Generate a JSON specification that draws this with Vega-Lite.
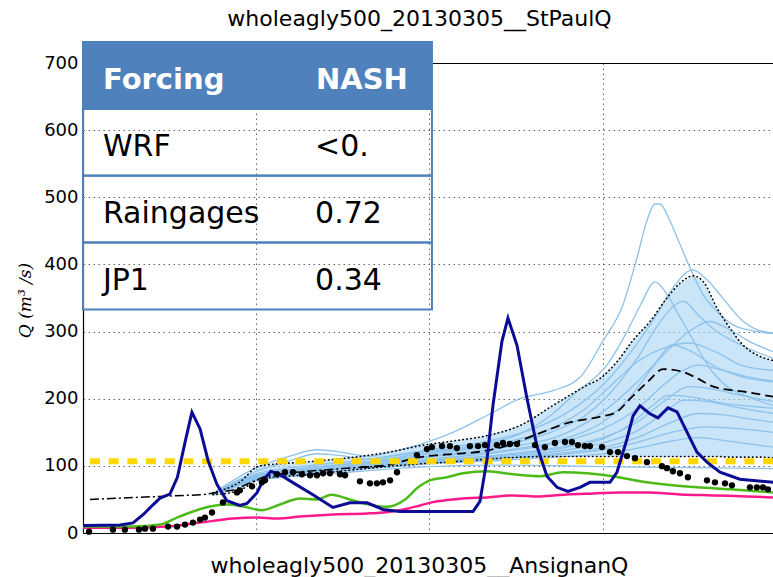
{
"$schema": "https://vega.github.io/schema/vega-lite/v6.json",
"width": 691, "height": 470,
"autosize": "none",
"padding": {"left": 83, "top": 63, "right": 0, "bottom": 44},
"background": "white",
"config": {"view": {"stroke": null}, "font": "DejaVu Sans"},
"title": {"text": "wholeagly500_20130305__StPaulQ", "frame": "group", "anchor": "middle", "dx": -9, "offset": -7, "fontSize": 22, "fontWeight": "normal", "font": "DejaVu Sans", "color": "black", "baseline": "alphabetic"},
"datasets": {
"band": [
{"t":0.75,"hi":60,"lo":57},{"t":0.9,"hi":75,"lo":63},{"t":1.02,"hi":100,"lo":80},{"t":1.3,"hi":106,"lo":87},{"t":1.6,"hi":114,"lo":95},{"t":1.8,"hi":122,"lo":100},{"t":1.946,"hi":130,"lo":103},{"t":2.136,"hi":137,"lo":106},{"t":2.333,"hi":145,"lo":110},{"t":2.523,"hi":160,"lo":113},{"t":2.714,"hi":190,"lo":114},{"t":2.91,"hi":220,"lo":114},{"t":2.985,"hi":230,"lo":114},{"t":3.083,"hi":255,"lo":114},{"t":3.176,"hi":287,"lo":114},{"t":3.274,"hi":315,"lo":114},{"t":3.372,"hi":350,"lo":114},{"t":3.447,"hi":372,"lo":114},{"t":3.522,"hi":383,"lo":114},{"t":3.58,"hi":375,"lo":114},{"t":3.661,"hi":335,"lo":114},{"t":3.736,"hi":305,"lo":113},{"t":3.811,"hi":280,"lo":113},{"t":3.909,"hi":263,"lo":113},{"t":3.984,"hi":257,"lo":112}
],
"ens": [
{"m":"e1","t":0.75,"q":59},{"m":"e1","t":1.0,"q":97},{"m":"e1","t":1.2,"q":115},{"m":"e1","t":1.35,"q":124},{"m":"e1","t":1.5,"q":120},{"m":"e1","t":1.65,"q":114},{"m":"e1","t":1.8,"q":122},{"m":"e1","t":1.946,"q":132},{"m":"e1","t":2.136,"q":150},{"m":"e1","t":2.333,"q":175},{"m":"e1","t":2.523,"q":200},{"m":"e1","t":2.714,"q":212},{"m":"e1","t":2.87,"q":232},{"m":"e1","t":3.0,"q":285},{"m":"e1","t":3.118,"q":340},{"m":"e1","t":3.199,"q":410},{"m":"e1","t":3.256,"q":465},{"m":"e1","t":3.303,"q":490},{"m":"e1","t":3.331,"q":490},{"m":"e1","t":3.389,"q":465},{"m":"e1","t":3.447,"q":430},{"m":"e1","t":3.505,"q":395},{"m":"e1","t":3.58,"q":355},{"m":"e1","t":3.661,"q":330},{"m":"e1","t":3.753,"q":310},{"m":"e1","t":3.851,"q":302},{"m":"e1","t":3.984,"q":297},
{"m":"e2","t":0.75,"q":58},{"m":"e2","t":1.0,"q":92},{"m":"e2","t":1.2,"q":108},{"m":"e2","t":1.35,"q":118},{"m":"e2","t":1.5,"q":115},{"m":"e2","t":1.65,"q":110},{"m":"e2","t":1.8,"q":116},{"m":"e2","t":2.0,"q":124},{"m":"e2","t":2.3,"q":135},{"m":"e2","t":2.6,"q":155},{"m":"e2","t":2.8,"q":180},{"m":"e2","t":3.0,"q":220},{"m":"e2","t":3.15,"q":265},{"m":"e2","t":3.3,"q":320},{"m":"e2","t":3.42,"q":370},{"m":"e2","t":3.52,"q":392},{"m":"e2","t":3.6,"q":378},{"m":"e2","t":3.7,"q":348},{"m":"e2","t":3.8,"q":318},{"m":"e2","t":3.9,"q":302},{"m":"e2","t":3.984,"q":298},
{"m":"e3","t":0.75,"q":58},{"m":"e3","t":1.0,"q":88},{"m":"e3","t":1.3,"q":100},{"m":"e3","t":1.6,"q":108},{"m":"e3","t":1.8,"q":115},{"m":"e3","t":2.0,"q":122},{"m":"e3","t":2.3,"q":132},{"m":"e3","t":2.5,"q":145},{"m":"e3","t":2.7,"q":175},{"m":"e3","t":2.85,"q":210},{"m":"e3","t":3.025,"q":250},{"m":"e3","t":3.141,"q":300},{"m":"e3","t":3.22,"q":340},{"m":"e3","t":3.303,"q":374},{"m":"e3","t":3.36,"q":360},{"m":"e3","t":3.45,"q":320},{"m":"e3","t":3.55,"q":275},{"m":"e3","t":3.62,"q":245},{"m":"e3","t":3.72,"q":218},{"m":"e3","t":3.85,"q":202},{"m":"e3","t":3.984,"q":190},
{"m":"e4","t":0.75,"q":57},{"m":"e4","t":1.0,"q":85},{"m":"e4","t":1.3,"q":96},{"m":"e4","t":1.6,"q":104},{"m":"e4","t":1.8,"q":110},{"m":"e4","t":2.0,"q":118},{"m":"e4","t":2.4,"q":130},{"m":"e4","t":2.7,"q":150},{"m":"e4","t":2.9,"q":175},{"m":"e4","t":3.05,"q":210},{"m":"e4","t":3.2,"q":260},{"m":"e4","t":3.32,"q":310},{"m":"e4","t":3.42,"q":340},{"m":"e4","t":3.47,"q":345},{"m":"e4","t":3.55,"q":325},{"m":"e4","t":3.65,"q":302},{"m":"e4","t":3.8,"q":280},{"m":"e4","t":3.984,"q":260},
{"m":"e5","t":0.75,"q":57},{"m":"e5","t":1.0,"q":84},{"m":"e5","t":1.3,"q":94},{"m":"e5","t":1.6,"q":102},{"m":"e5","t":1.8,"q":108},{"m":"e5","t":2.0,"q":115},{"m":"e5","t":2.4,"q":126},{"m":"e5","t":2.8,"q":150},{"m":"e5","t":3.0,"q":180},{"m":"e5","t":3.2,"q":225},{"m":"e5","t":3.35,"q":265},{"m":"e5","t":3.5,"q":300},{"m":"e5","t":3.62,"q":315},{"m":"e5","t":3.72,"q":305},{"m":"e5","t":3.85,"q":285},{"m":"e5","t":3.984,"q":270},
{"m":"e6","t":0.75,"q":57},{"m":"e6","t":1.0,"q":83},{"m":"e6","t":1.3,"q":93},{"m":"e6","t":1.6,"q":100},{"m":"e6","t":1.8,"q":106},{"m":"e6","t":2.0,"q":113},{"m":"e6","t":2.4,"q":122},{"m":"e6","t":2.8,"q":142},{"m":"e6","t":3.0,"q":165},{"m":"e6","t":3.15,"q":200},{"m":"e6","t":3.3,"q":250},{"m":"e6","t":3.4,"q":280},{"m":"e6","t":3.5,"q":272},{"m":"e6","t":3.65,"q":248},{"m":"e6","t":3.8,"q":233},{"m":"e6","t":3.984,"q":225},
{"m":"e7","t":0.75,"q":57},{"m":"e7","t":1.0,"q":82},{"m":"e7","t":1.3,"q":92},{"m":"e7","t":1.6,"q":99},{"m":"e7","t":1.8,"q":104},{"m":"e7","t":2.0,"q":110},{"m":"e7","t":2.4,"q":120},{"m":"e7","t":2.8,"q":138},{"m":"e7","t":3.0,"q":155},{"m":"e7","t":3.2,"q":185},{"m":"e7","t":3.35,"q":220},{"m":"e7","t":3.45,"q":240},{"m":"e7","t":3.55,"q":250},{"m":"e7","t":3.7,"q":242},{"m":"e7","t":3.85,"q":232},{"m":"e7","t":3.984,"q":226},
{"m":"e8","t":0.75,"q":57},{"m":"e8","t":1.0,"q":81},{"m":"e8","t":1.3,"q":91},{"m":"e8","t":1.6,"q":98},{"m":"e8","t":1.8,"q":102},{"m":"e8","t":2.0,"q":108},{"m":"e8","t":2.4,"q":116},{"m":"e8","t":2.8,"q":130},{"m":"e8","t":3.0,"q":142},{"m":"e8","t":3.2,"q":165},{"m":"e8","t":3.35,"q":195},{"m":"e8","t":3.5,"q":218},{"m":"e8","t":3.62,"q":215},{"m":"e8","t":3.8,"q":205},{"m":"e8","t":3.984,"q":196},
{"m":"e9","t":0.75,"q":57},{"m":"e9","t":1.0,"q":80},{"m":"e9","t":1.3,"q":90},{"m":"e9","t":1.6,"q":97},{"m":"e9","t":1.8,"q":101},{"m":"e9","t":2.0,"q":106},{"m":"e9","t":2.4,"q":113},{"m":"e9","t":2.8,"q":124},{"m":"e9","t":3.0,"q":134},{"m":"e9","t":3.2,"q":152},{"m":"e9","t":3.35,"q":178},{"m":"e9","t":3.47,"q":198},{"m":"e9","t":3.6,"q":196},{"m":"e9","t":3.8,"q":186},{"m":"e9","t":3.984,"q":178},
{"m":"e10","t":0.75,"q":57},{"m":"e10","t":1.0,"q":80},{"m":"e10","t":1.3,"q":89},{"m":"e10","t":1.6,"q":96},{"m":"e10","t":1.8,"q":100},{"m":"e10","t":2.0,"q":105},{"m":"e10","t":2.4,"q":111},{"m":"e10","t":2.8,"q":120},{"m":"e10","t":3.0,"q":127},{"m":"e10","t":3.2,"q":142},{"m":"e10","t":3.4,"q":165},{"m":"e10","t":3.55,"q":178},{"m":"e10","t":3.7,"q":176},{"m":"e10","t":3.85,"q":170},{"m":"e10","t":3.984,"q":165},
{"m":"e11","t":0.75,"q":57},{"m":"e11","t":1.0,"q":81},{"m":"e11","t":1.3,"q":90},{"m":"e11","t":1.6,"q":97},{"m":"e11","t":1.8,"q":102},{"m":"e11","t":2.0,"q":107},{"m":"e11","t":2.4,"q":115},{"m":"e11","t":2.8,"q":128},{"m":"e11","t":3.0,"q":140},{"m":"e11","t":3.15,"q":160},{"m":"e11","t":3.28,"q":188},{"m":"e11","t":3.38,"q":205},{"m":"e11","t":3.5,"q":203},{"m":"e11","t":3.7,"q":193},{"m":"e11","t":3.984,"q":186},
{"m":"e12","t":0.75,"q":57},{"m":"e12","t":1.0,"q":80},{"m":"e12","t":1.3,"q":88},{"m":"e12","t":1.6,"q":95},{"m":"e12","t":1.8,"q":99},{"m":"e12","t":2.0,"q":103},{"m":"e12","t":2.4,"q":108},{"m":"e12","t":2.8,"q":114},{"m":"e12","t":3.0,"q":118},{"m":"e12","t":3.2,"q":126},{"m":"e12","t":3.4,"q":137},{"m":"e12","t":3.55,"q":142},{"m":"e12","t":3.75,"q":136},{"m":"e12","t":3.984,"q":128},
{"m":"e13","t":0.75,"q":56},{"m":"e13","t":1.0,"q":78},{"m":"e13","t":1.3,"q":86},{"m":"e13","t":1.6,"q":92},{"m":"e13","t":1.8,"q":96},{"m":"e13","t":2.0,"q":99},{"m":"e13","t":2.4,"q":101},{"m":"e13","t":2.8,"q":100},{"m":"e13","t":3.2,"q":98},{"m":"e13","t":3.6,"q":97},{"m":"e13","t":3.984,"q":96},
{"m":"e14","t":0.75,"q":58},{"m":"e14","t":1.0,"q":86},{"m":"e14","t":1.3,"q":97},{"m":"e14","t":1.6,"q":105},{"m":"e14","t":1.8,"q":112},{"m":"e14","t":2.0,"q":120},{"m":"e14","t":2.4,"q":133},{"m":"e14","t":2.7,"q":155},{"m":"e14","t":2.9,"q":185},{"m":"e14","t":3.05,"q":220},{"m":"e14","t":3.2,"q":255},{"m":"e14","t":3.35,"q":275},{"m":"e14","t":3.5,"q":283},{"m":"e14","t":3.65,"q":270},{"m":"e14","t":3.8,"q":250},{"m":"e14","t":3.984,"q":242},
{"m":"e15","t":0.75,"q":57},{"m":"e15","t":1.0,"q":80},{"m":"e15","t":1.3,"q":89},{"m":"e15","t":1.6,"q":96},{"m":"e15","t":1.8,"q":100},{"m":"e15","t":2.0,"q":104},{"m":"e15","t":2.4,"q":110},{"m":"e15","t":2.8,"q":118},{"m":"e15","t":3.0,"q":124},{"m":"e15","t":3.2,"q":135},{"m":"e15","t":3.4,"q":150},{"m":"e15","t":3.6,"q":158},{"m":"e15","t":3.8,"q":155},{"m":"e15","t":3.984,"q":150}
],
"series": [
{"s":"mean","t":0.04,"q":50},{"s":"mean","t":0.4,"q":54},{"s":"mean","t":0.69,"q":57},{"s":"mean","t":0.87,"q":64},{"s":"mean","t":0.95,"q":73},{"s":"mean","t":1.05,"q":84},{"s":"mean","t":1.2,"q":90},{"s":"mean","t":1.5,"q":96},{"s":"mean","t":1.75,"q":100},
{"s":"median","t":1.6,"q":98},{"s":"median","t":1.75,"q":101},{"s":"median","t":1.946,"q":113},{"s":"median","t":2.1,"q":117},{"s":"median","t":2.29,"q":121},{"s":"median","t":2.42,"q":128},{"s":"median","t":2.6,"q":145},{"s":"median","t":2.8,"q":164},{"s":"median","t":3.0,"q":174},{"s":"median","t":3.08,"q":180},{"s":"median","t":3.16,"q":200},{"s":"median","t":3.26,"q":225},{"s":"median","t":3.35,"q":244},{"s":"median","t":3.45,"q":241},{"s":"median","t":3.55,"q":230},{"s":"median","t":3.64,"q":218},{"s":"median","t":3.83,"q":210},{"s":"median","t":3.984,"q":203},
{"s":"thr","t":0.04,"q":107},{"s":"thr","t":3.984,"q":107},
{"s":"pink","t":0,"q":8},{"s":"pink","t":0.289,"q":8},{"s":"pink","t":0.485,"q":9.5},{"s":"pink","t":0.676,"q":15.5},{"s":"pink","t":0.866,"q":21.5},{"s":"pink","t":1.005,"q":23},{"s":"pink","t":1.12,"q":21.5},{"s":"pink","t":1.253,"q":24.5},{"s":"pink","t":1.443,"q":27.5},{"s":"pink","t":1.64,"q":29},{"s":"pink","t":1.75,"q":31},{"s":"pink","t":1.85,"q":35},{"s":"pink","t":1.946,"q":41},{"s":"pink","t":2.02,"q":46},{"s":"pink","t":2.102,"q":49},{"s":"pink","t":2.194,"q":51.5},{"s":"pink","t":2.333,"q":53},{"s":"pink","t":2.483,"q":56},{"s":"pink","t":2.639,"q":54.5},{"s":"pink","t":2.794,"q":57.5},{"s":"pink","t":2.945,"q":59},{"s":"pink","t":3.1,"q":60.5},{"s":"pink","t":3.256,"q":60.5},{"s":"pink","t":3.447,"q":57.5},{"s":"pink","t":3.637,"q":56},{"s":"pink","t":3.834,"q":54.5},{"s":"pink","t":3.984,"q":53},
{"s":"green","t":0,"q":9.5},{"s":"green","t":0.289,"q":9.5},{"s":"green","t":0.445,"q":12.5},{"s":"green","t":0.543,"q":23},{"s":"green","t":0.635,"q":32},{"s":"green","t":0.733,"q":39.5},{"s":"green","t":0.831,"q":42.5},{"s":"green","t":0.924,"q":39.5},{"s":"green","t":1.03,"q":34},{"s":"green","t":1.137,"q":42.5},{"s":"green","t":1.253,"q":51.5},{"s":"green","t":1.351,"q":50},{"s":"green","t":1.435,"q":57},{"s":"green","t":1.541,"q":50},{"s":"green","t":1.64,"q":43},{"s":"green","t":1.75,"q":39},{"s":"green","t":1.86,"q":50},{"s":"green","t":1.93,"q":67},{"s":"green","t":2.0,"q":78},{"s":"green","t":2.102,"q":83},{"s":"green","t":2.194,"q":89},{"s":"green","t":2.333,"q":92},{"s":"green","t":2.483,"q":87.5},{"s":"green","t":2.639,"q":84.5},{"s":"green","t":2.771,"q":90.5},{"s":"green","t":2.91,"q":89},{"s":"green","t":3.06,"q":84.5},{"s":"green","t":3.216,"q":77},{"s":"green","t":3.349,"q":72.5},{"s":"green","t":3.545,"q":68},{"s":"green","t":3.736,"q":65},{"s":"green","t":3.984,"q":60.5},
{"s":"blue","t":0,"q":11},{"s":"blue","t":0.214,"q":12},{"s":"blue","t":0.289,"q":15},{"s":"blue","t":0.35,"q":28},{"s":"blue","t":0.404,"q":42},{"s":"blue","t":0.445,"q":52},{"s":"blue","t":0.502,"q":58},{"s":"blue","t":0.545,"q":83},{"s":"blue","t":0.589,"q":135},{"s":"blue","t":0.629,"q":180},{"s":"blue","t":0.676,"q":155},{"s":"blue","t":0.722,"q":108},{"s":"blue","t":0.774,"q":72},{"s":"blue","t":0.831,"q":48},{"s":"blue","t":0.906,"q":41},{"s":"blue","t":0.947,"q":44},{"s":"blue","t":1.005,"q":60},{"s":"blue","t":1.039,"q":78},{"s":"blue","t":1.085,"q":92},{"s":"blue","t":1.137,"q":87},{"s":"blue","t":1.212,"q":75},{"s":"blue","t":1.328,"q":57},{"s":"blue","t":1.443,"q":38},{"s":"blue","t":1.541,"q":45},{"s":"blue","t":1.64,"q":45},{"s":"blue","t":1.732,"q":35},{"s":"blue","t":1.83,"q":32},{"s":"blue","t":2.003,"q":32},{"s":"blue","t":2.252,"q":32},{"s":"blue","t":2.292,"q":47},{"s":"blue","t":2.333,"q":110},{"s":"blue","t":2.367,"q":189.5},{"s":"blue","t":2.419,"q":285.5},{"s":"blue","t":2.454,"q":320},{"s":"blue","t":2.506,"q":279.5},{"s":"blue","t":2.564,"q":200},{"s":"blue","t":2.621,"q":129.5},{"s":"blue","t":2.679,"q":84.5},{"s":"blue","t":2.737,"q":68},{"s":"blue","t":2.8,"q":62},{"s":"blue","t":2.87,"q":68},{"s":"blue","t":2.927,"q":75.5},{"s":"blue","t":2.985,"q":75.5},{"s":"blue","t":3.043,"q":75.5},{"s":"blue","t":3.083,"q":90.5},{"s":"blue","t":3.141,"q":140},{"s":"blue","t":3.176,"q":174.5},{"s":"blue","t":3.216,"q":189.5},{"s":"blue","t":3.274,"q":177.5},{"s":"blue","t":3.32,"q":171.5},{"s":"blue","t":3.378,"q":186.5},{"s":"blue","t":3.43,"q":180.5},{"s":"blue","t":3.487,"q":150.5},{"s":"blue","t":3.545,"q":120.5},{"s":"blue","t":3.603,"q":105.5},{"s":"blue","t":3.678,"q":90.5},{"s":"blue","t":3.793,"q":80},{"s":"blue","t":3.984,"q":75.5}
],
"obs": [
{"t":0.035,"q":2},{"t":0.173,"q":5},{"t":0.242,"q":5},{"t":0.323,"q":5},{"t":0.358,"q":6.5},{"t":0.404,"q":6.5},{"t":0.491,"q":9.5},{"t":0.543,"q":9.5},{"t":0.589,"q":12.5},{"t":0.635,"q":15.5},{"t":0.676,"q":20},{"t":0.704,"q":23},{"t":0.745,"q":30.5},{"t":0.808,"q":45.5},{"t":0.889,"q":60.5},{"t":0.906,"q":63.5},{"t":0.976,"q":69.5},{"t":1.033,"q":75.5},{"t":1.051,"q":78.5},{"t":1.12,"q":87.5},{"t":1.166,"q":90.5},{"t":1.212,"q":90.5},{"t":1.264,"q":87.5},{"t":1.311,"q":86},{"t":1.351,"q":86},{"t":1.386,"q":89},{"t":1.426,"q":89},{"t":1.484,"q":87.5},{"t":1.513,"q":86},{"t":1.599,"q":77},{"t":1.657,"q":74},{"t":1.697,"q":74},{"t":1.732,"q":75.5},{"t":1.773,"q":78.5},{"t":1.813,"q":90.5},{"t":1.928,"q":116},{"t":1.986,"q":125},{"t":2.015,"q":128},{"t":2.073,"q":129.5},{"t":2.119,"q":129.5},{"t":2.159,"q":126.5},{"t":2.234,"q":129.5},{"t":2.281,"q":129.5},{"t":2.321,"q":131},{"t":2.39,"q":131},{"t":2.425,"q":134},{"t":2.465,"q":132.5},{"t":2.506,"q":132.5},{"t":2.61,"q":131},{"t":2.667,"q":128},{"t":2.725,"q":134},{"t":2.783,"q":135.5},{"t":2.823,"q":135.5},{"t":2.858,"q":131},{"t":2.898,"q":129.5},{"t":2.927,"q":129.5},{"t":2.997,"q":128},{"t":3.043,"q":120.5},{"t":3.089,"q":120.5},{"t":3.141,"q":114.5},{"t":3.187,"q":111.5},{"t":3.256,"q":105.5},{"t":3.343,"q":99.5},{"t":3.372,"q":96.5},{"t":3.406,"q":92},{"t":3.447,"q":89},{"t":3.493,"q":83},{"t":3.603,"q":78.5},{"t":3.649,"q":75.5},{"t":3.707,"q":74},{"t":3.747,"q":71},{"t":3.851,"q":68},{"t":3.891,"q":68},{"t":3.926,"q":68},{"t":3.955,"q":65}
],
"table": [
{"row":0,"forcing":"Forcing","nash":"NASH"},
{"row":1,"forcing":"WRF","nash":"<0."},
{"row":2,"forcing":"Raingages","nash":"0.72"},
{"row":3,"forcing":"JP1","nash":"0.34"}
]
},
"resolve": {"scale": {"x": "independent", "y": "independent"}, "axis": {"x": "independent", "y": "independent"}},
"layer": [
{"layer": [
 {"data": {"name": "band"},
  "mark": {"type": "area", "color": "#a9d4f4", "opacity": 0.6},
  "encoding": {
   "x": {"field": "t", "type": "quantitative", "title": "wholeagly500_20130305__AnsignanQ", "scale": {"domain": [0, 3.99], "nice": false, "zero": false},
     "axis": {"values": [0, 1, 2, 3], "labels": false, "ticks": false, "grid": true, "gridDash": [1.5, 3.5], "gridColor": "#666666", "gridWidth": 1, "domainColor": "black", "domainWidth": 1.2, "titleFont": "DejaVu Sans", "titleFontSize": 22, "titleFontWeight": "normal", "titleColor": "black", "titleX": 336, "titleY": 39, "titleBaseline": "alphabetic", "titleAlign": "center"}},
   "y": {"field": "hi", "type": "quantitative", "title": "Q (m³ /s)", "scale": {"domain": [0, 700], "nice": false},
     "axis": {"values": [0, 100, 200, 300, 400, 500, 600, 700], "ticks": false, "labelFont": "DejaVu Sans", "labelFontSize": 18, "labelColor": "black", "labelPadding": 5, "grid": true, "gridDash": [1.5, 3.5], "gridColor": "#666666", "gridWidth": 1, "domainColor": "black", "domainWidth": 1.2, "titleFont": "DejaVu Serif", "titleFontStyle": "italic", "titleFontSize": 17, "titleFontWeight": "normal", "titleColor": "black", "titleX": -58, "titleY": 237, "titleAngle": 270, "titleBaseline": "middle", "titleAlign": "center"}},
   "y2": {"field": "lo"}
  }},
 {"data": {"name": "ens"},
  "mark": {"type": "line", "color": "#8cc2ec", "strokeWidth": 1.3, "interpolate": "monotone"},
  "encoding": {
   "x": {"field": "t", "type": "quantitative", "title": "wholeagly500_20130305__AnsignanQ"},
   "y": {"field": "q", "type": "quantitative", "title": "Q (m³ /s)"},
   "detail": {"field": "m"}
  }},
 {"data": {"name": "band"},
  "mark": {"type": "line", "color": "black", "strokeWidth": 1.6, "strokeDash": [0.5, 3.5], "strokeCap": "round", "interpolate": "monotone"},
  "encoding": {
   "x": {"field": "t", "type": "quantitative", "title": "wholeagly500_20130305__AnsignanQ"},
   "y": {"field": "hi", "type": "quantitative", "title": "Q (m³ /s)"}
  }},
 {"data": {"name": "band"},
  "mark": {"type": "line", "color": "black", "strokeWidth": 1.6, "strokeDash": [0.5, 3.5], "strokeCap": "round", "interpolate": "monotone"},
  "encoding": {
   "x": {"field": "t", "type": "quantitative", "title": "wholeagly500_20130305__AnsignanQ"},
   "y": {"field": "lo", "type": "quantitative", "title": "Q (m³ /s)"}
  }},
 {"data": {"name": "series"},
  "transform": [{"filter": "datum.s === 'mean'"}],
  "mark": {"type": "line", "color": "black", "strokeWidth": 1.5, "strokeDash": [9, 3, 2, 3]},
  "encoding": {
   "x": {"field": "t", "type": "quantitative", "title": "wholeagly500_20130305__AnsignanQ"},
   "y": {"field": "q", "type": "quantitative", "title": "Q (m³ /s)"}
  }},
 {"data": {"name": "series"},
  "transform": [{"filter": "datum.s === 'median'"}],
  "mark": {"type": "line", "color": "black", "strokeWidth": 1.8, "strokeDash": [9, 5], "interpolate": "monotone"},
  "encoding": {
   "x": {"field": "t", "type": "quantitative", "title": "wholeagly500_20130305__AnsignanQ"},
   "y": {"field": "q", "type": "quantitative", "title": "Q (m³ /s)"}
  }},
 {"data": {"name": "series"},
  "transform": [{"filter": "datum.s === 'thr'"}],
  "mark": {"type": "line", "color": "#ffd700", "strokeWidth": 6, "strokeDash": [10, 8.7]},
  "encoding": {
   "x": {"field": "t", "type": "quantitative", "title": "wholeagly500_20130305__AnsignanQ"},
   "y": {"field": "q", "type": "quantitative", "title": "Q (m³ /s)"}
  }},
 {"data": {"name": "series"},
  "transform": [{"filter": "datum.s === 'pink'"}],
  "mark": {"type": "line", "color": "#ff1a8c", "strokeWidth": 2.5, "interpolate": "monotone"},
  "encoding": {
   "x": {"field": "t", "type": "quantitative", "title": "wholeagly500_20130305__AnsignanQ"},
   "y": {"field": "q", "type": "quantitative", "title": "Q (m³ /s)"}
  }},
 {"data": {"name": "series"},
  "transform": [{"filter": "datum.s === 'green'"}],
  "mark": {"type": "line", "color": "#4cbb17", "strokeWidth": 2.5, "interpolate": "monotone"},
  "encoding": {
   "x": {"field": "t", "type": "quantitative", "title": "wholeagly500_20130305__AnsignanQ"},
   "y": {"field": "q", "type": "quantitative", "title": "Q (m³ /s)"}
  }},
 {"data": {"name": "series"},
  "transform": [{"filter": "datum.s === 'blue'"}],
  "mark": {"type": "line", "color": "#0b0b96", "strokeWidth": 3},
  "encoding": {
   "x": {"field": "t", "type": "quantitative", "title": "wholeagly500_20130305__AnsignanQ"},
   "y": {"field": "q", "type": "quantitative", "title": "Q (m³ /s)"}
  }},
 {"data": {"name": "obs"},
  "mark": {"type": "circle", "color": "black", "size": 40, "opacity": 1},
  "encoding": {
   "x": {"field": "t", "type": "quantitative", "title": "wholeagly500_20130305__AnsignanQ"},
   "y": {"field": "q", "type": "quantitative", "title": "Q (m³ /s)"}
  }}
]},
{"data": {"name": "table"},
 "layer": [
 {"mark": {"type": "rect", "height": 67, "stroke": "#4f81bd", "strokeWidth": 2},
  "encoding": {
   "x": {"datum": 0, "type": "quantitative", "scale": {"domain": [0, 3.99], "nice": false, "zero": false},
     "axis": {"orient": "top", "labels": false, "ticks": false, "grid": false, "domain": true, "domainColor": "black", "domainWidth": 1.2, "title": null, "zindex": 0}},
   "x2": {"datum": 2.015},
   "y": {"field": "row", "type": "quantitative", "scale": {"domain": [-0.187, 6.849], "reverse": true, "nice": false, "zero": false}, "axis": null},
   "fill": {"condition": {"test": "datum.row === 0", "value": "#4f81bd"}, "value": "transparent"}
  }},
 {"transform": [{"filter": "datum.row === 0"}],
  "mark": {"type": "text", "align": "left", "baseline": "alphabetic", "dy": 13.7, "font": "DejaVu Sans", "fontSize": 29, "fontWeight": "bold", "color": "white"},
  "encoding": {
   "x": {"datum": 0.1155, "type": "quantitative"},
   "y": {"field": "row", "type": "quantitative"},
   "text": {"field": "forcing"}
  }},
 {"transform": [{"filter": "datum.row === 0"}],
  "mark": {"type": "text", "align": "left", "baseline": "alphabetic", "dy": 13.7, "font": "DejaVu Sans", "fontSize": 29, "fontWeight": "bold", "color": "white"},
  "encoding": {
   "x": {"datum": 1.345, "type": "quantitative"},
   "y": {"field": "row", "type": "quantitative"},
   "text": {"field": "nash"}
  }},
 {"transform": [{"filter": "datum.row > 0"}],
  "mark": {"type": "text", "align": "left", "baseline": "alphabetic", "dy": 13.7, "font": "DejaVu Sans", "fontSize": 30, "fontWeight": "normal", "color": "black"},
  "encoding": {
   "x": {"datum": 0.115, "type": "quantitative"},
   "y": {"field": "row", "type": "quantitative"},
   "text": {"field": "forcing"}
  }},
 {"transform": [{"filter": "datum.row > 0"}],
  "mark": {"type": "text", "align": "left", "baseline": "alphabetic", "dy": 13.7, "font": "DejaVu Sans", "fontSize": 30, "fontWeight": "normal", "color": "black"},
  "encoding": {
   "x": {"datum": 1.34, "type": "quantitative"},
   "y": {"field": "row", "type": "quantitative"},
   "text": {"field": "nash"}
  }}
 ]}
]
}
